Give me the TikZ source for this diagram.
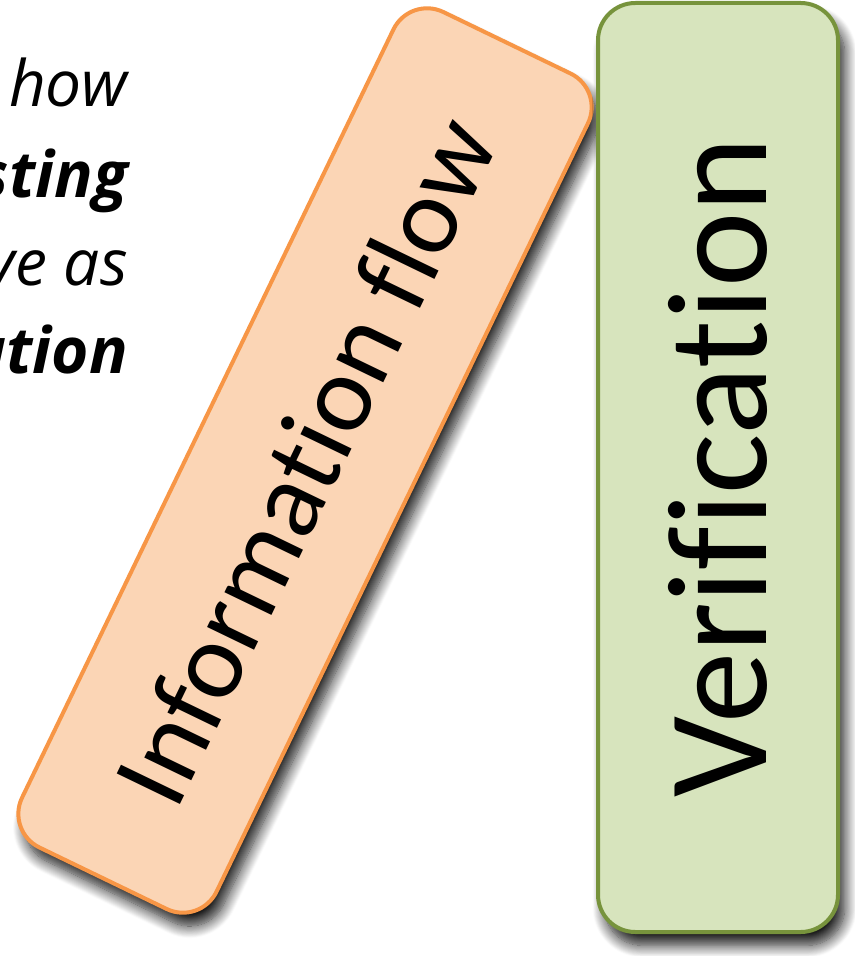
\documentclass[tikz,border=0pt]{standalone}
\usepackage{fontspec}
\setmainfont[Ligatures=NoCommon,RawFeature={-liga}]{Carlito}
\newfontfamily\notefont[Ligatures=NoCommon]{Open Sans}
\usetikzlibrary{shadows.blur}
\definecolor{flowfill}{HTML}{FBD5B5}
\definecolor{flowline}{HTML}{F79646}
\definecolor{verfill}{HTML}{D7E4BD}
\definecolor{verline}{HTML}{77933C}
\begin{document}
\begin{tikzpicture}[x=0.75pt,y=-0.75pt,
  panel/.style={draw, line width=3pt, rounded corners=28pt, inner sep=0pt,
    blur shadow={shadow xshift=5pt, shadow yshift=-10pt, shadow blur radius=9pt,
      shadow blur steps=14, shadow opacity=90}},
  flowbox/.style={panel, fill=flowfill, draw=flowline, minimum width=696pt, minimum height=162pt,
    font=\fontsize{82}{98}\selectfont},
  verbox/.style={panel, fill=verfill, draw=verline, minimum width=696.75pt, minimum height=180pt,
    font=\fontsize{107}{128}\selectfont},
  side/.style={anchor=base east, inner sep=0pt, font=\notefont\fontsize{48}{58}\selectfont\itshape},
  sidebold/.style={side, font=\notefont\fontsize{48}{58}\selectfont\bfseries\itshape}]
\useasboundingbox (0,0) rectangle (854,956);
% partly visible caption lines on the left
\node[side] (l1) at (128,107) {how};
\node[sidebold] (l2) at (128,197) {sting};
\node[side] (l3) at (128,285) {ve as};
\node[sidebold] (l4) at (128,373) {ation};
% the two labelled panels
\node[flowbox, rotate=64.2] (flow) at (305,460.5) {Information flow};
\node[verbox, rotate=90] (ver) at (718,467.5) {Verification};
\end{tikzpicture}
\end{document}
